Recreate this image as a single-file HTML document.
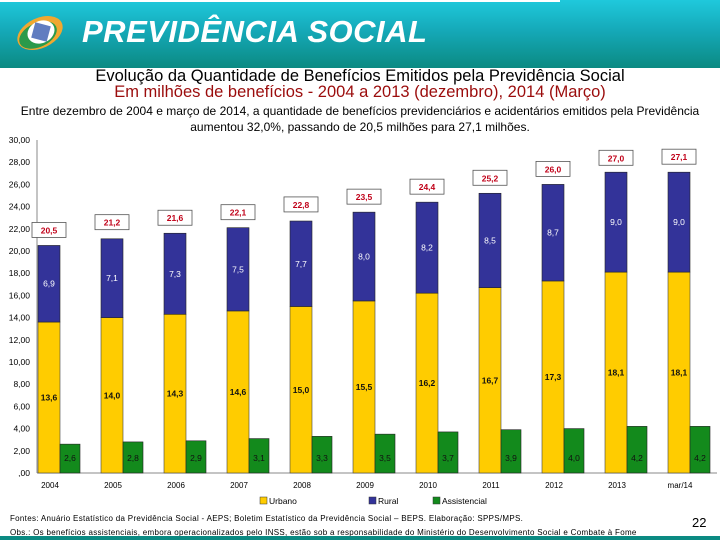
<!DOCTYPE html>
<html><head><meta charset="utf-8">
<style>
body{margin:0;width:720px;height:540px;overflow:hidden;background:#fff;font-family:"Liberation Sans",sans-serif;position:relative}
.hdr{position:absolute;left:0;top:0;width:720px;height:68px;background:linear-gradient(#1fc9dc 0%,#15a9b8 45%,#0b8a82 100%)}
.strip{position:absolute;left:0;top:0;width:560px;height:2px;background:#fff}
.t{position:absolute;left:0;width:720px;text-align:center}
</style></head><body>
<div class="hdr">
 <div class="strip"></div>
 <svg width="70" height="68" style="position:absolute;left:8px;top:0">
  <ellipse cx="32" cy="33" rx="24" ry="15" transform="rotate(-25 32 33)" fill="#f0a830"/>
  <ellipse cx="30" cy="35" rx="20" ry="12" transform="rotate(-25 30 35)" fill="#2a9a4a"/>
  <ellipse cx="33" cy="32" rx="14" ry="11" transform="rotate(-25 33 32)" fill="#fff"/>
  <rect x="25" y="24" width="16" height="16" transform="rotate(15 33 32)" fill="#3a5db0" opacity="0.8"/>
 </svg>
 <div style="position:absolute;left:82px;top:14px;font-size:31px;font-weight:bold;font-style:italic;color:#fff;letter-spacing:0.5px">PREVIDÊNCIA SOCIAL</div>
</div>
<div class="t" style="top:67px;font-size:16.5px;color:#000">Evolução da Quantidade de Benefícios Emitidos pela Previdência Social</div>
<div class="t" style="top:83px;font-size:16.5px;color:#9b0c0c">Em milhões de benefícios - 2004 a 2013 (dezembro), 2014 (Março)</div>
<div class="t" style="top:103px;font-size:12px;line-height:16px;color:#000">Entre dezembro de 2004 e março de 2014, a quantidade de benefícios previdenciários e acidentários emitidos pela Previdência<br>aumentou 32,0%, passando de 20,5 milhões para 27,1 milhões.</div>
<svg id="chart" width="720" height="540" style="position:absolute;left:0;top:0"></svg>
<div style="position:absolute;left:10px;top:512px;font-size:8px;color:#000;line-height:14px;letter-spacing:0.3px;white-space:nowrap">Fontes: Anuário Estatístico da Previdência Social - AEPS; Boletim Estatístico da Previdência Social – BEPS. Elaboração: SPPS/MPS.<br>Obs.: Os benefícios assistenciais, embora operacionalizados pelo INSS, estão sob a responsabilidade do Ministério do Desenvolvimento Social e Combate à Fome</div>
<div style="position:absolute;left:692px;top:515px;font-size:13px">22</div>
<div style="position:absolute;left:0;top:536px;width:720px;height:4px;background:#0b8a82"></div>
<script>
const categories=["2004","2005","2006","2007","2008","2009","2010","2011","2012","2013","mar/14"];
const urbano=[13.6,14.0,14.3,14.6,15.0,15.5,16.2,16.7,17.3,18.1,18.1];
const rural=[6.9,7.1,7.3,7.5,7.7,8.0,8.2,8.5,8.7,9.0,9.0];
const assistencial=[2.6,2.8,2.9,3.1,3.3,3.5,3.7,3.9,4.0,4.2,4.2];
const totals=[20.5,21.2,21.6,22.1,22.8,23.5,24.4,25.2,26.0,27.0,27.1];
const yTicks=[0,2,4,6,8,10,12,14,16,18,20,22,24,26,28,30];
const NS="http://www.w3.org/2000/svg";
const svg=document.getElementById('chart');
const y0=473,ppu=11.1;
function y(v){return y0-v*ppu;}
function x(i){return 38+i*63;}
function fmt(v){return v.toFixed(1).replace('.',',');}
function el(t,a,p){const e=document.createElementNS(NS,t);for(const k in a)e.setAttribute(k,a[k]);(p||svg).appendChild(e);return e;}
function txt(s,a){const e=el('text',a);e.textContent=s;return e;}
const ax=el('line',{x1:37,y1:y(30),x2:37,y2:y0,stroke:'#888'});


const xa=el('line',{x1:37,y1:y0,x2:717,y2:y0,stroke:'#888'});


yTicks.forEach(v=>{
 const t=txt(v===0?',00':v.toFixed(2).replace('.',','),{x:30,y:y(v)+3,'text-anchor':'end','font-size':8.5,fill:'#000'});
 
 
});
categories.forEach((c,i)=>{
 const bx=x(i);
 const u=el('rect',{x:bx,y:y(urbano[i]),width:22,height:urbano[i]*ppu,fill:'#ffcc00',stroke:'#444','stroke-width':0.6});
 
 
 const r=el('rect',{x:bx,y:y(urbano[i]+rural[i]),width:22,height:rural[i]*ppu,fill:'#333399',stroke:'#222','stroke-width':0.6});
 
 
 const a=el('rect',{x:bx+22,y:y(assistencial[i]),width:20,height:assistencial[i]*ppu,fill:'#138a1c',stroke:'#222','stroke-width':0.6});
 
 
 const l1=txt(fmt(urbano[i]),{x:bx+11,y:y(urbano[i]/2)+3,'text-anchor':'middle','font-size':8.5,'font-weight':'bold',fill:'#111'});
 
 
 const l2=txt(fmt(rural[i]),{x:bx+11,y:y(urbano[i]+rural[i]/2)+3,'text-anchor':'middle','font-size':8.5,fill:'#fff'});
 
 
 const l3=txt(fmt(assistencial[i]),{x:bx+32,y:y0-12,'text-anchor':'middle','font-size':8.5,fill:'#111'});
 
 
 const bt=y(totals[i])-8;
 const b=el('rect',{x:bx-6,y:bt-15,width:34,height:15,fill:'#fff',stroke:'#555','stroke-width':0.8});
 
 
 const lt=txt(fmt(totals[i]),{x:bx+11,y:bt-4,'text-anchor':'middle','font-size':8.5,'font-weight':'bold',fill:'#c00018'});
 
 
 const xl=txt(c,{x:bx+12,y:488,'text-anchor':'middle','font-size':8,fill:'#000'});
 
 
});
[["Urbano","#ffcc00",260],["Rural","#333399",369],["Assistencial","#138a1c",433]].forEach(([n,c,lx])=>{
 const s=el('rect',{x:lx,y:497,width:7,height:7,fill:c,stroke:'#333','stroke-width':0.5});
 
 
 const t=txt(n,{x:lx+9,y:504,'font-size':8.5,fill:'#000'});
 
 
});
</script>
</body></html>
